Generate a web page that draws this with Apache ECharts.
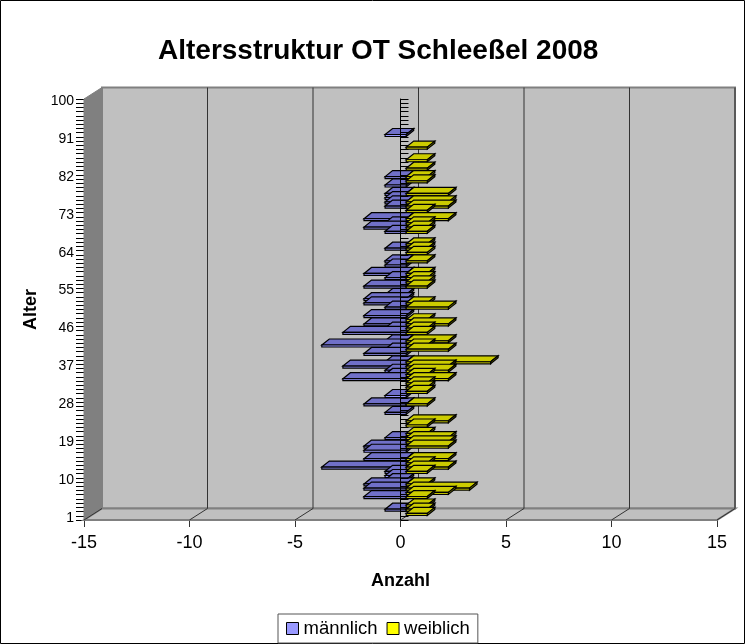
<!DOCTYPE html>
<html>
<head>
<meta charset="utf-8">
<title>Altersstruktur</title>
<script src="https://cdn.jsdelivr.net/npm/echarts@6/dist/echarts.min.js"></script>
<style>
  html, body { margin: 0; padding: 0; background: #fff; }
  #chart { width: 745px; height: 644px; }
</style>
</head>
<body>
<div id="chart"></div>
<script>
const ages = [
  1, 2, 3, 4, 5, 6, 7, 8, 9, 10, 11, 12, 13, 14, 15, 16, 17, 18, 19, 20,
  21, 22, 23, 24, 25, 26, 27, 28, 29, 30, 31, 32, 33, 34, 35, 36, 37, 38, 39, 40,
  41, 42, 43, 44, 45, 46, 47, 48, 49, 50, 51, 52, 53, 54, 55, 56, 57, 58, 59, 60,
  61, 62, 63, 64, 65, 66, 67, 68, 69, 70, 71, 72, 73, 74, 75, 76, 77, 78, 79, 80,
  81, 82, 83, 84, 85, 86, 87, 88, 89, 90, 91, 92, 93, 94, 95, 96, 97, 98, 99, 100
]
const maennlich = [
  0, -1, 0, 0, -2, 0, -2, -2, -1, -1, -1, -4, 0, -2, 0, -2, -2, 0, -1, 0,
  0, 0, 0, 0, -1, 0, -2, 0, -1, 0, 0, 0, -3, -1, -1, -3, -1, 0, -2, -1,
  -4, -1, 0, -3, -1, -2, 0, -2, 0, -1, -2, -2, -1, 0, -2, 0, -1, -2, 0, -1,
  -1, 0, 0, -1, 0, 0, 0, -1, -2, -1, -2, 0, 0, -1, -1, -1, -1, 0, -1, 0,
  -1, 0, 0, 0, 0, 0, 0, 0, 0, 0, -1, 0, 0, 0, 0, 0, 0, 0, 0, 0
]
const weiblich = [
  1, 1, 1, 0, 1, 2, 3, 1, 0, 0, 1, 2, 1, 2, 0, 0, 2, 2, 2, 1,
  0, 1, 2, 0, 0, 0, 1, 0, 0, 1, 1, 1, 2, 1, 2, 2, 4, 0, 0, 2,
  1, 2, 0, 1, 1, 2, 1, 0, 0, 2, 1, 0, 0, 0, 1, 1, 1, 1, 0, 0,
  1, 0, 1, 1, 1, 0, 0, 1, 1, 1, 2, 0, 1, 2, 2, 0, 2, 0, 0, 1,
  1, 0, 1, 0, 1, 0, 0, 1, 0, 0, 0, 0, 0, 0, 0, 0, 0, 0, 0, 0
]
const xTicks = [-15, -10, -5, 0, 5, 10, 15]

// oblique depth of the fake 3d box, in pixels
const depthX = 18
const depthY = -11.5

const poly = (points, fill, stroke, lineWidth = 1) => ({
  type: 'polygon',
  shape: { points },
  style: { fill, stroke, lineWidth }
})

function renderWalls (params, api) {
  const rect = params.coordSys
  const xv = api.value(0)
  const p = api.coord([xv, 0])
  const left = rect.x
  const right = rect.x + rect.width
  const top = rect.y
  const bottom = rect.y + rect.height
  const children = []
  if (params.dataIndex === 0) {
    children.push(poly([[left + depthX, top + depthY], [right + depthX, top + depthY], [right + depthX, bottom + depthY], [left + depthX, bottom + depthY]], '#c0c0c0', '#808080', 2))
    children.push(poly([[left, top], [left + depthX, top + depthY], [left + depthX, bottom + depthY], [left, bottom]], '#808080', '#808080'))
    children.push(poly([[left, bottom], [left + depthX, bottom + depthY], [right + depthX, bottom + depthY], [right, bottom]], '#c0c0c0', '#808080', 2))
  }
  if (xv > xTicks[0]) {
    children.push({
      type: 'line',
      shape: { x1: p[0] + depthX, y1: top + depthY, x2: p[0] + depthX, y2: bottom + depthY },
      style: { stroke: '#333', lineWidth: 1 }
    })
  }
  children.push({
    type: 'line',
    shape: { x1: p[0], y1: bottom, x2: p[0] + depthX, y2: bottom + depthY },
    style: { stroke: '#333', lineWidth: 1 }
  })
  return { type: 'group', children }
}

function barRenderer (topColor, frontColor, sideColor) {
  return function (params, api) {
    const v = api.value(0)
    const c = api.value(1)
    if (v === 0) return null
    const a = api.coord([0, c])
    const b = api.coord([v, c])
    const x1 = Math.min(a[0], b[0]) + 5.7
    const x2 = Math.max(a[0], b[0]) + 5.7
    const y1 = a[1] - 4.5
    const y2 = y1 + 2
    const dx = 7.5
    const dy = -6
    return {
      type: 'group',
      children: [
        poly([[x1, y1], [x1 + dx, y1 + dy], [x2 + dx, y1 + dy], [x2, y1]], topColor, '#000', 1.2),
        poly([[x2, y1], [x2 + dx, y1 + dy], [x2 + dx, y2 + dy], [x2, y2]], sideColor, '#000', 1.2),
        poly([[x1, y1], [x2, y1], [x2, y2], [x1, y2]], frontColor, '#000', 1.2)
      ]
    }
  }
}

// lower ages sit in front, so they get drawn last
const barData = values => values.map((v, i) => [v, i]).reverse()

const chart = echarts.init(document.getElementById('chart'))
chart.setOption({
  animation: false,
  backgroundColor: '#fff',
  textStyle: { fontFamily: 'Liberation Sans' },
  graphic: [{
    type: 'rect',
    silent: true,
    shape: { x: 0.5, y: 0.5, width: 744, height: 643 },
    style: { fill: 'none', stroke: '#000', lineWidth: 1 }
  }],
  title: {
    text: 'Altersstruktur OT Schleeßel 2008',
    left: 158,
    top: 37,
    padding: 0,
    textStyle: { fontFamily: 'Liberation Sans', fontSize: 28, fontWeight: 'bold', color: '#000' }
  },
  legend: {
    left: 278,
    top: 614,
    padding: [5, 8, 5, 8],
    borderColor: '#555',
    borderWidth: 1,
    borderRadius: 0,
    itemWidth: 12,
    itemHeight: 12,
    itemGap: 9,
    icon: 'rect',
    itemStyle: { borderColor: '#000', borderWidth: 1 },
    textStyle: { fontFamily: 'Liberation Sans', fontSize: 18.5, color: '#000' },
    data: ['männlich', 'weiblich']
  },
  grid: { left: 84, right: 28, top: 99, height: 421, containLabel: false },
  xAxis: {
    type: 'value',
    min: -15,
    max: 15,
    interval: 5,
    name: 'Anzahl',
    nameLocation: 'middle',
    nameGap: 52,
    nameTextStyle: { fontFamily: 'Liberation Sans', fontSize: 18, fontWeight: 'bold', color: '#000' },
    axisLine: { onZero: false, lineStyle: { color: '#333', width: 2 } },
    axisTick: { show: true, length: 7, lineStyle: { color: '#333' } },
    axisLabel: { fontFamily: 'Liberation Sans', fontSize: 18, color: '#000', margin: 14 },
    splitLine: { show: false }
  },
  yAxis: [{
    type: 'category',
    data: ages,
    position: 'left',
    name: 'Alter',
    nameLocation: 'middle',
    nameGap: 40,
    nameRotate: 90,
    nameTextStyle: { fontFamily: 'Liberation Sans', fontSize: 18, fontWeight: 'bold', color: '#000' },
    axisLine: { onZero: false, lineStyle: { color: '#000' } },
    axisTick: { show: true, interval: 0, length: 8, lineStyle: { color: '#000' } },
    axisLabel: { interval: 8, fontFamily: 'Liberation Sans', fontSize: 14, color: '#000', margin: 10 },
    splitLine: { show: false }
  }, {
    type: 'category',
    data: ages,
    z: 3,
    axisLine: { onZero: true, lineStyle: { color: '#000' } },
    axisTick: { show: true, interval: 0, length: 8, lineStyle: { color: '#000' } },
    axisLabel: { show: false },
    splitLine: { show: false }
  }],
  series: [{
    name: 'Wände',
    type: 'custom',
    z: 1,
    silent: true,
    clip: false,
    renderItem: renderWalls,
    encode: { x: 0, y: 1 },
    data: xTicks.map(t => [t, 0])
  }, {
    name: 'männlich',
    type: 'custom',
    z: 2,
    clip: false,
    renderItem: barRenderer('#7070c8', '#9999ff', '#4c4c80'),
    itemStyle: { color: '#9999ff' },
    encode: { x: 0, y: 1 },
    data: barData(maennlich)
  }, {
    name: 'weiblich',
    type: 'custom',
    z: 4,
    clip: false,
    renderItem: barRenderer('#cccc00', '#ffff00', '#808000'),
    itemStyle: { color: '#ffff00' },
    encode: { x: 0, y: 1 },
    data: barData(weiblich)
  }]
})
</script>
</body>
</html>
